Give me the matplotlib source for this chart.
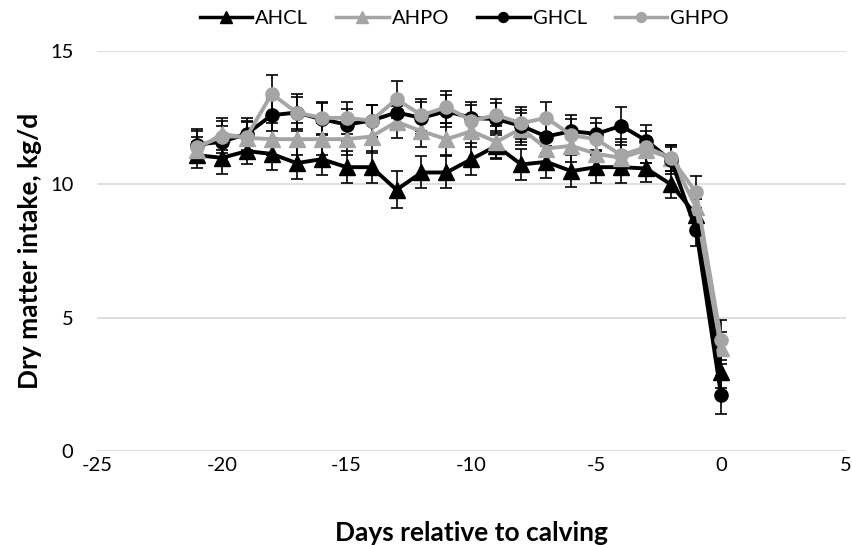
import numpy as np
import matplotlib
matplotlib.use("Agg")
import matplotlib.pyplot as plt
from matplotlib.lines import Line2D

days = [-21, -20, -19, -18, -17, -16, -15, -14, -13, -12, -11,
        -10, -9, -8, -7, -6, -5, -4, -3, -2, -1, 0]

ahcl = [11.1, 11.0, 11.25, 11.15, 10.8, 10.95, 10.65, 10.65, 9.8, 10.45, 10.45,
        10.95, 11.45, 10.75, 10.85, 10.5, 10.65, 10.65, 10.6, 10.0, 8.85, 2.95]
ahcl_err = [0.5, 0.6, 0.5, 0.6, 0.6, 0.6, 0.6, 0.6, 0.7, 0.6, 0.6,
            0.6, 0.5, 0.6, 0.6, 0.6, 0.6, 0.6, 0.5, 0.5, 0.6, 0.6]

ahpo = [11.3, 11.9, 11.75, 11.7, 11.7, 11.7, 11.7, 11.8, 12.35, 12.0, 11.7,
        12.0, 11.6, 12.1, 11.35, 11.45, 11.15, 11.0, 11.3, 11.0, 9.15, 3.85]
ahpo_err = [0.5, 0.6, 0.6, 0.6, 0.6, 0.6, 0.6, 0.6, 0.6, 0.6, 0.6,
            0.6, 0.6, 0.6, 0.6, 0.6, 0.6, 0.6, 0.5, 0.5, 0.6, 0.6]

ghcl = [11.5, 11.6, 11.9, 12.6, 12.7, 12.45, 12.25, 12.4, 12.7, 12.5, 12.75,
        12.5, 12.45, 12.2, 11.8, 12.0, 11.9, 12.2, 11.65, 10.9, 8.3, 2.1]
ghcl_err = [0.6, 0.6, 0.6, 0.6, 0.6, 0.6, 0.6, 0.6, 0.6, 0.6, 0.6,
            0.6, 0.6, 0.6, 0.6, 0.6, 0.6, 0.7, 0.6, 0.5, 0.6, 0.7]

ghpo = [11.4, 11.8, 11.8, 13.4, 12.7, 12.5, 12.5, 12.4, 13.2, 12.6, 12.9,
        12.4, 12.6, 12.3, 12.5, 11.85, 11.7, 11.1, 11.4, 11.0, 9.7, 4.15]
ghpo_err = [0.6, 0.6, 0.6, 0.7, 0.7, 0.6, 0.6, 0.6, 0.7, 0.6, 0.6,
            0.6, 0.6, 0.6, 0.6, 0.6, 0.6, 0.6, 0.6, 0.5, 0.6, 0.75]

plt.rcParams['font.family'] = ['Lato', 'DejaVu Sans']
plt.rcParams['axes.unicode_minus'] = False

fig = plt.figure(figsize=(8.52, 5.45), dpi=100)
ax = fig.add_axes([0.1138, 0.1725, 0.879, 0.7335])

gray = '#A5A5A5'
series = [
    ("AHCL", ahcl, ahcl_err, 'black', '^', 12),
    ("AHPO", ahpo, ahpo_err, gray, '^', 12),
    ("GHCL", ghcl, ghcl_err, 'black', 'o', 9.5),
    ("GHPO", ghpo, ghpo_err, gray, 'o', 9.5),
]

handles = []
for name, vals, err, col, mk, ms in series:
    ax.errorbar(days, vals, yerr=err, color=col, marker=mk, markersize=ms,
                linewidth=2.8, ecolor='black', elinewidth=1.2, capsize=4,
                capthick=1.2)
    handles.append(Line2D([], [], color=col, marker=mk, markersize=ms * 0.75,
                          linewidth=2.5, label=name))

ax.set_xlim(-25, 5)
ax.set_ylim(0, 15)
ax.set_xticks([-25, -20, -15, -10, -5, 0, 5])
ax.set_yticks([0, 5, 10, 15])
ax.yaxis.grid(True, color='#D9D9D9', linewidth=1.2)
ax.set_axisbelow(True)
for s in ax.spines.values():
    s.set_visible(False)
ax.tick_params(axis='both', length=0, labelsize=14.5)
ax.tick_params(axis='x', pad=4)
ax.tick_params(axis='y', pad=17)

ax.set_xlabel("Days relative to calving", fontsize=19, fontweight='bold', labelpad=34)
ax.set_ylabel("Dry matter intake, kg/d", fontsize=19, fontweight='bold', labelpad=6)

fig.legend(handles=handles, loc='upper center', bbox_to_anchor=(0.545, 1.015), ncol=4,
           frameon=False, fontsize=14.5, handlelength=2.6, handletextpad=0.15,
           columnspacing=1.4)

fig.savefig("out.png", dpi=100)
